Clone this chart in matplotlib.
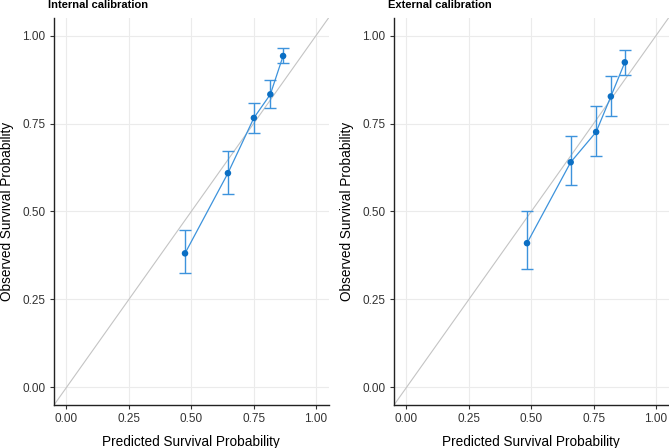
import matplotlib
matplotlib.use("Agg")
import matplotlib.pyplot as plt
import numpy as np

plt.rcParams['font.family'] = ['Liberation Sans', 'DejaVu Sans']

titles = ["Internal calibration", "External calibration"]

int_pred = [0.475, 0.647, 0.751, 0.817, 0.868]
int_obs = [0.381, 0.609, 0.766, 0.833, 0.942]
int_lo = [0.324, 0.551, 0.724, 0.795, 0.921]
int_hi = [0.446, 0.672, 0.809, 0.873, 0.964]

ext_pred = [0.483, 0.658, 0.760, 0.819, 0.875]
ext_obs = [0.410, 0.640, 0.726, 0.827, 0.924]
ext_lo = [0.336, 0.574, 0.659, 0.771, 0.888]
ext_hi = [0.501, 0.715, 0.800, 0.886, 0.960]

ticks = [0.0, 0.25, 0.5, 0.75, 1.0]
tick_labels = ["0.00", "0.25", "0.50", "0.75", "1.00"]

fig = plt.figure(figsize=(6.69, 4.48), dpi=100)
W, H = 669, 448
positions = [(54, 328.5), (394, 668.5)]
bottom_px, top_px = 405, 18

data = [(int_pred, int_obs, int_lo, int_hi), (ext_pred, ext_obs, ext_lo, ext_hi)]

line_col = "#3d93dc"
pt_col = "#0b6fc4"

for i, ((l, r), (px, ob, lo, hi)) in enumerate(zip(positions, data)):
    ax = fig.add_axes([l / W, (H - bottom_px) / H, (r - l) / W, (bottom_px - top_px) / H])
    ax.set_xlim(-0.05, 1.05)
    ax.set_ylim(-0.05, 1.05)
    ax.set_xticks(ticks)
    ax.set_xticklabels(tick_labels)
    ax.set_yticks(ticks)
    ax.set_yticklabels(tick_labels)
    ax.grid(True, color="#ebebeb", linewidth=0.8)
    ax.set_axisbelow(True)
    for s in ["top", "right"]:
        ax.spines[s].set_visible(False)
    for s in ["left", "bottom"]:
        ax.spines[s].set_linewidth(1.0)
        ax.spines[s].set_color("#222222")
    ax.tick_params(axis="both", length=3, width=0.8, color="#333333",
                   labelsize=8.5, labelcolor="#333333", pad=3)
    ax.plot([-0.05, 1.05], [-0.05, 1.05], color="#c4c4c4", linewidth=0.8, zorder=1)
    px = np.array(px); ob = np.array(ob); lo = np.array(lo); hi = np.array(hi)
    ax.errorbar(px, ob, yerr=[ob - lo, hi - ob], fmt="none", ecolor=line_col,
                elinewidth=1.0, capsize=4, capthick=1.0, zorder=2)
    ax.plot(px, ob, color=line_col, linewidth=0.9, zorder=3)
    ax.scatter(px, ob, color=pt_col, s=22, zorder=4, edgecolors="none")
    ax.set_xlabel("Predicted Survival Probability", fontsize=9.8, labelpad=7)
    ax.set_ylabel("Observed Survival Probability", fontsize=9.8, labelpad=6)
    fig.text((l - 6) / W, 1 - 5 / H, titles[i], fontsize=8, fontweight="bold",
             ha="left", va="center")

fig.savefig("out.png", dpi=100)
